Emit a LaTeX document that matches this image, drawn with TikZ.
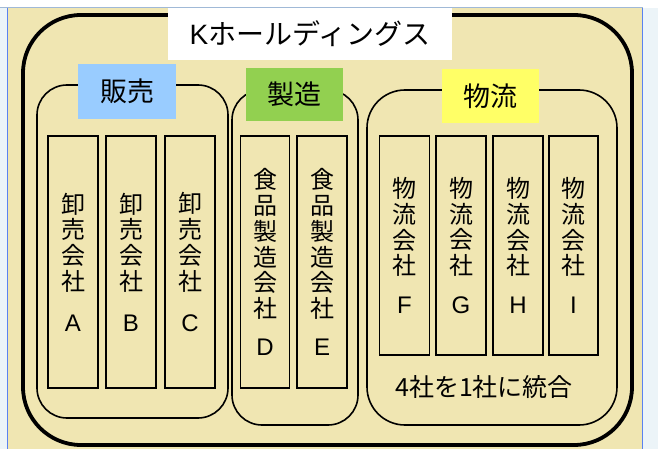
\documentclass[tikz,border=0pt]{standalone}
\usepackage{fontspec}
\setmainfont{Noto Sans CJK JP}
\newfontfamily\latn{Liberation Sans}
\definecolor{beige}{RGB}{240,230,178}
\definecolor{panel}{RGB}{236,244,248}
\definecolor{bline}{RGB}{90,130,240}
\definecolor{tline}{RGB}{160,185,215}
\definecolor{lblue}{RGB}{153,204,255}
\definecolor{lgreen}{RGB}{146,208,80}
\definecolor{lyellow}{RGB}{255,255,102}
\tikzset{
  outerbox/.style={draw=black, line width=3.8pt, rounded corners=58pt, inner sep=0pt},
  grp/.style={draw=black, line width=1.6pt, inner sep=0pt},
  lbl/.style={inner sep=0pt, font=\fontsize{27}{30}\selectfont},
  cbox/.style={draw=black, line width=1.8pt, inner sep=0pt, minimum width=50pt, align=center, font=\fontsize{24}{25.8}\selectfont},
  let/.style={font=\latn\fontsize{22}{22}\selectfont}
}
\begin{document}
\begin{tikzpicture}[x=1pt,y=-1pt]
\useasboundingbox (0,0) rectangle (658,449);
\fill[beige] (0,0) rectangle (658,449);
\fill[white] (0,0) rectangle (658,8);
\fill[panel] (0,8) rectangle (7.5,449);
\fill[panel] (642.5,8) rectangle (658,449);
\draw[tline, line width=1pt] (0,8) -- (642.5,8);
\draw[bline, line width=1.2pt] (7.5,8) -- (7.5,449);
\draw[bline, line width=1.2pt] (642.5,8) -- (642.5,449);

% outer holding box
\node[outerbox, minimum width=609pt, minimum height=430pt] (hold) at (327.5,230) {};
\node[fill=white, inner sep=0pt, minimum width=284pt, minimum height=52pt,
      font=\fontsize{28}{30}\selectfont] (title) at (310,34) {{\latn K}ホールディングス};

% groups
\node[grp, rounded corners=30pt, minimum width=191pt, minimum height=333pt] (sales) at (132.5,251.5) {};
\node[grp, rounded corners=30pt, minimum width=126pt, minimum height=335pt] (mfg) at (295,257.5) {};
\node[grp, rounded corners=38pt, minimum width=250pt, minimum height=335pt] (logi) at (492,257.5) {};

\node[lbl, fill=lblue, minimum width=98pt, minimum height=55pt] (salesl) at (127,91.5) {販売};
\node[lbl, fill=lgreen, minimum width=97pt, minimum height=53pt] (mfgl) at (294.5,94.5) {製造};
\node[lbl, fill=lyellow, minimum width=97pt, minimum height=54pt] (logil) at (490.5,96) {物流};

% sales companies
\node[cbox, minimum height=252pt] (ca) at (73,262) {卸\\売\\会\\社\\[15pt]{\latn A}};
\node[cbox, minimum height=252pt] (cb) at (131,262) {卸\\売\\会\\社\\[15pt]{\latn B}};
\node[cbox, minimum height=252pt] (cc) at (190,262) {卸\\売\\会\\社\\[15pt]{\latn C}};

% manufacturing companies
\node[cbox, minimum width=49pt, minimum height=252pt] (cd) at (265,262) {食\\品\\製\\造\\会\\社\\[12pt]{\latn D}};
\node[cbox, minimum height=252pt] (ce) at (322,262) {食\\品\\製\\造\\会\\社\\[12pt]{\latn E}};

% logistics companies
\node[cbox, minimum height=219pt] (cf) at (404.5,245.5) {物\\流\\会\\社\\[13pt]{\latn F}};
\node[cbox, minimum height=219pt] (cg) at (461,245.5) {物\\流\\会\\社\\[13pt]{\latn G}};
\node[cbox, minimum height=219pt] (ch) at (518,245.5) {物\\流\\会\\社\\[13pt]{\latn H}};
\node[cbox, minimum width=49pt, minimum height=219pt] (ci) at (573.5,245.5) {物\\流\\会\\社\\[13pt]{\latn I}};

\node[inner sep=0pt, font=\fontsize{25}{27}\selectfont] (merge) at (484,387) {4社を1社に統合};
\end{tikzpicture}
\end{document}
